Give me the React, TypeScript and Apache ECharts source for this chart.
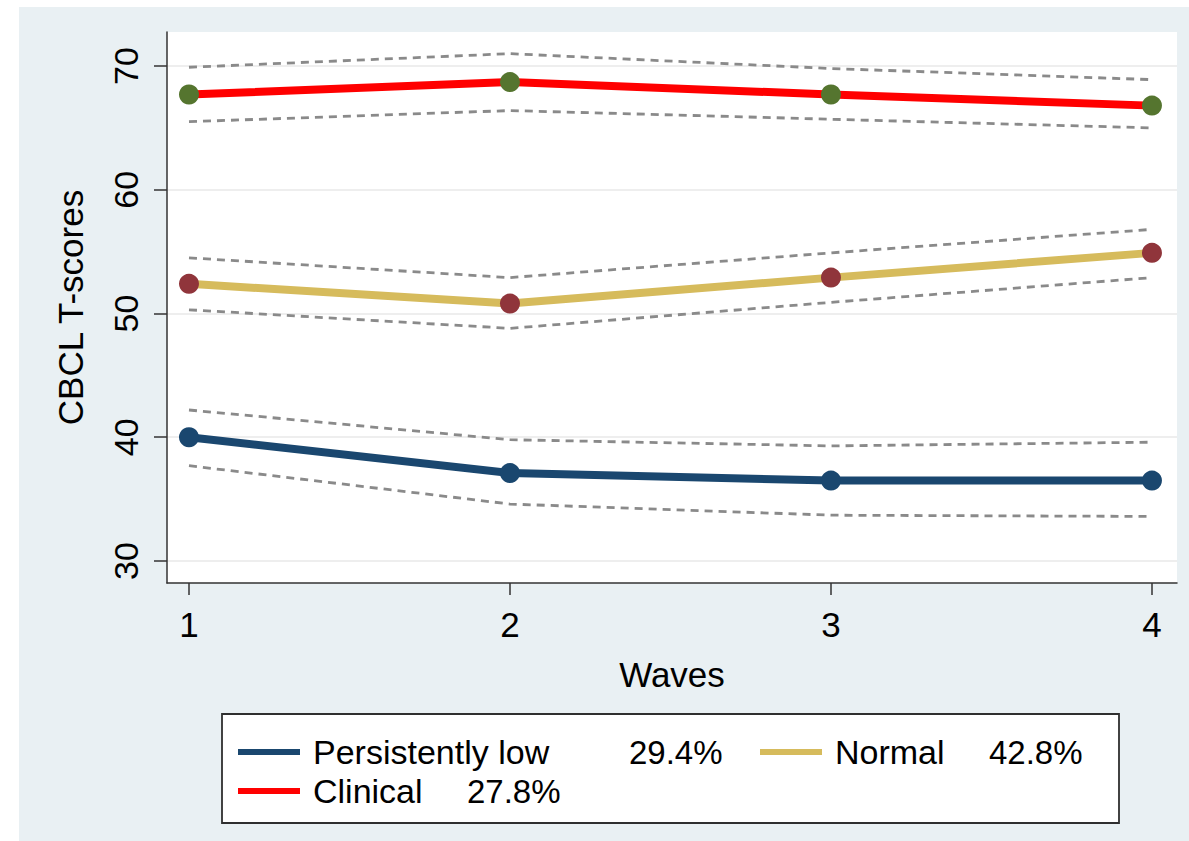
import React, { useEffect, useRef } from "react";
import * as echarts from "echarts";

const waves = [1, 2, 3, 4];
const yTicks = [30, 40, 50, 60, 70];

const groupNames = ["Persistently low", "Normal", "Clinical"];
const groupShares = ["29.4%", "42.8%", "27.8%"];

const lowMean = [40.0, 37.1, 36.5, 36.5];
const lowUpper = [42.2, 39.8, 39.3, 39.6];
const lowLower = [37.7, 34.6, 33.7, 33.6];

const normalMean = [52.4, 50.8, 52.9, 54.9];
const normalUpper = [54.5, 52.9, 54.9, 56.8];
const normalLower = [50.3, 48.8, 50.9, 52.9];

const clinicalMean = [67.7, 68.7, 67.7, 66.8];
const clinicalUpper = [69.9, 71.0, 69.8, 68.9];
const clinicalLower = [65.5, 66.4, 65.7, 65.0];

const FONT = "'Liberation Sans', Arial, Helvetica, sans-serif";
const lineColors = ["#1a476f", "#d6bb5c", "#ff0000"];
const markerColors = ["#1a476f", "#90353b", "#55752f"];

const pairs = (vals: number[]) => waves.map((w, i) => [w, vals[i]]);

export default function App() {
  const ref = useRef<HTMLDivElement>(null);

  useEffect(() => {
    if (!ref.current) return;
    const chart = echarts.init(ref.current, undefined, { renderer: "svg" });

    const means = [lowMean, normalMean, clinicalMean];
    const bands = [
      [lowUpper, lowLower],
      [normalUpper, normalLower],
      [clinicalUpper, clinicalLower],
    ];

    const dashedSeries: any[] = [];
    bands.forEach((b) => {
      b.forEach((vals) => {
        dashedSeries.push({
          type: "line",
          data: pairs(vals),
          symbol: "none",
          silent: true,
          z: 2,
          lineStyle: { color: "#8a8a8a", width: 2.8, type: [8, 6] },
          emphasis: { disabled: true },
        });
      });
    });

    const mainSeries = means.map((vals, i) => ({
      type: "line",
      name: groupNames[i],
      data: pairs(vals),
      symbol: "circle",
      symbolSize: 20,
      z: 3,
      itemStyle: { color: markerColors[i], borderWidth: 0 },
      lineStyle: { color: lineColors[i], width: 8 },
      emphasis: { disabled: true },
    }));

    const shareOf = (name: string) => groupShares[groupNames.indexOf(name)];

    const legendText = {
      color: "#000",
      fontFamily: FONT,
      fontSize: 33,
      rich: {
        nl: { fontSize: 34, fontFamily: FONT, color: "#000", width: 316, padding: [0, 0, 0, 8], lineHeight: 36 },
        n: { fontSize: 34, fontFamily: FONT, color: "#000", width: 154, padding: [0, 0, 0, 8], lineHeight: 36 },
        p: { fontSize: 33, fontFamily: FONT, color: "#000", width: 100, lineHeight: 36 },
      },
    };
    const legendFormatter = (name: string) =>
      name === groupNames[0] ? `{nl|${name}}{p|${shareOf(name)}}` : `{n|${name}}{p|${shareOf(name)}}`;

    const legendItem = (i: number) => ({
      name: groupNames[i],
      itemStyle: { color: lineColors[i] },
    });

    const option: any = {
      animation: false,
      backgroundColor: "#ffffff",
      textStyle: { fontFamily: FONT },
      graphic: [
        {
          type: "rect",
          z: -10,
          silent: true,
          shape: { x: 19, y: 7, width: 1170, height: 834 },
          style: { fill: "#e9f0f3" },
        },
        {
          type: "rect",
          z: -5,
          silent: true,
          shape: { x: 222, y: 714, width: 897, height: 109 },
          style: { fill: "#ffffff", stroke: "#2f2f2f", lineWidth: 1.8 },
        },
      ],
      grid: {
        left: 167,
        right: 12,
        top: 32,
        bottom: 258,
        show: true,
        backgroundColor: "#ffffff",
        borderWidth: 0,
        outerBoundsMode: "none",
        containLabel: false,
      },
      legend: [
        {
          data: [legendItem(0), legendItem(1)],
          left: 238,
          top: 735,
          padding: 0,
          itemGap: 31,
          itemWidth: 62,
          itemHeight: 6,
          icon: "rect",
          selectedMode: false,
          textStyle: legendText,
          formatter: legendFormatter,
        },
        {
          data: [legendItem(2)],
          left: 238,
          top: 774,
          padding: 0,
          itemGap: 31,
          itemWidth: 62,
          itemHeight: 6,
          icon: "rect",
          selectedMode: false,
          textStyle: legendText,
          formatter: legendFormatter,
        },
      ],
      xAxis: {
        type: "value",
        min: 0.9315,
        max: 4.078,
        name: "Waves",
        nameLocation: "middle",
        nameGap: 74,
        nameMoveOverlap: false,
        nameTextStyle: { fontSize: 35, color: "#000", fontFamily: FONT },
        axisLine: { show: true, onZero: false, lineStyle: { color: "#333333", width: 1.5 } },
        axisTick: {
          show: true,
          length: 12,
          customValues: waves,
          lineStyle: { color: "#333333", width: 1.5 },
        },
        axisLabel: {
          customValues: waves,
          margin: 24,
          fontSize: 35,
          color: "#000",
          fontFamily: FONT,
        },
        splitLine: { show: false },
      },
      yAxis: {
        type: "value",
        min: 28.22,
        max: 72.75,
        name: "CBCL T-scores",
        nameLocation: "middle",
        nameGap: 79,
        nameMoveOverlap: false,
        nameTextStyle: { fontSize: 35, color: "#000", fontFamily: FONT },
        axisLine: { show: true, onZero: false, lineStyle: { color: "#333333", width: 1.5 } },
        axisTick: {
          show: true,
          length: 13,
          customValues: yTicks,
          lineStyle: { color: "#333333", width: 1.5 },
        },
        axisLabel: {
          customValues: yTicks,
          rotate: 90,
          margin: 24,
          fontSize: 34,
          color: "#000",
          fontFamily: FONT,
        },
        splitLine: { show: true, lineStyle: { color: "#e8e8e8", width: 1.5 } },
      },
      series: [...dashedSeries, ...mainSeries],
    };

    chart.setOption(option);
    return () => chart.dispose();
  }, []);

  return (
    <div
      ref={ref}
      style={{ position: "fixed", left: 0, top: 0, width: 1189, height: 841 }}
    />
  );
}
